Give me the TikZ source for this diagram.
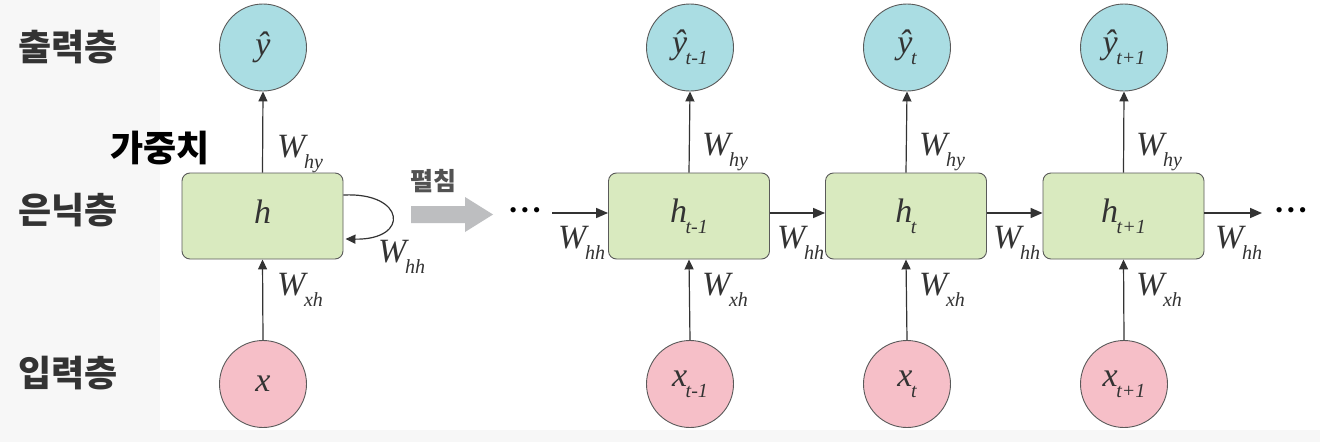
\documentclass[tikz,border=0pt]{standalone}
\usepackage{fontspec}
\setmainfont{Liberation Serif}
\newfontfamily\krfont{Noto Sans CJK KR}
\usetikzlibrary{arrows.meta}
\definecolor{bgGray}{HTML}{F7F7F7}
\definecolor{outC}{HTML}{AADDE3}
\definecolor{inC}{HTML}{F6BFC8}
\definecolor{hidC}{HTML}{D9EABF}
\definecolor{edgeC}{HTML}{5A5A5A}
\definecolor{lineC}{HTML}{333333}
\definecolor{unfoldC}{HTML}{BDBEC0}
\definecolor{krC}{HTML}{333333}
\newcommand{\mainsz}{\fontsize{34}{34}\selectfont\itshape}
\newcommand{\subsz}{\fontsize{20}{20}\selectfont\itshape}
\newcommand{\lab}[2]{{\mainsz #1}\kern-1.5pt\raisebox{-11pt}{\subsz #2}}
\newcommand{\mydots}{\textbullet\kern4pt\textbullet\kern4pt\textbullet}
\tikzset{
  outnode/.style={circle, draw=edgeC, line width=0.9pt, fill=outC, minimum size=87pt, inner sep=0pt, text=lineC},
  innode/.style={circle, draw=edgeC, line width=0.9pt, fill=inC, minimum size=87pt, inner sep=0pt, text=lineC},
  hidnode/.style={rectangle, rounded corners=8pt, draw=edgeC, line width=0.9pt, fill=hidC, minimum width=161pt, minimum height=86pt, inner sep=0pt, text=lineC},
  vconn/.style={draw=lineC, line width=1.2pt, -{Triangle[length=10pt,width=9pt]}},
  hconn/.style={draw=lineC, line width=1.6pt, -{Triangle[length=12pt,width=10pt]}},
  wlab/.style={anchor=base west, inner sep=0pt, text=lineC},
  krlab/.style={font=\krfont\bfseries\fontsize{36}{36}\selectfont, text=krC, inner sep=0pt},
  dotsnode/.style={inner sep=0pt, text=black, font=\fontsize{22}{22}\selectfont}
}
\begin{document}
\begin{tikzpicture}[x=1pt,y=-1pt]
\fill[bgGray] (0,0) rectangle (1320,442);
\fill[white] (160,0) rectangle (1320,430);
\useasboundingbox (0,0) rectangle (1320,442);

% Korean layer labels
\node[krlab] (kout) at (68,47) {출력층};
\node[krlab] (khid) at (68,210) {은닉층};
\node[krlab] (kin) at (68,373) {입력층};
\node[krlab, text=black] (kw) at (160,148) {가중치};

% folded network
\node[outnode] (y0) at (263,47.5) {\mainsz ŷ};
\node[hidnode] (h0) at (262.5,216) {\mainsz h\rule[-8pt]{0pt}{8pt}};
\node[innode] (x0) at (263,384) {\mainsz x};
\draw[vconn] (h0.north) -- (y0.south);
\draw[vconn] (x0.north) -- (h0.south);
\draw[draw=lineC, line width=1.2pt, -{Triangle[length=10pt,width=9pt]}]
  ([yshift=21pt]h0.east) .. controls ([xshift=62pt,yshift=24pt]h0.east) and ([xshift=67pt,yshift=-24pt]h0.east) .. ([xshift=2pt,yshift=-23pt]h0.east);
\node[wlab] (l0a) at (277,157) {\lab{W}{hy}};
\node[wlab] (l0b) at (277,295) {\lab{W}{xh}};
\node[wlab] (l0c) at (378,262) {\lab{W}{hh}};

% unfold arrow
\fill[unfoldC] (411,206) -- (465,206) -- (465,197) -- (493,214.5) -- (465,232) -- (465,223) -- (411,223) -- cycle;
\node[font=\krfont\bfseries\fontsize{25}{25}\selectfont, text=krC!85, inner sep=0pt] (unf) at (433,181) {펼침};

% unfolded network
\node[outnode] (y1) at (690,47.5) {\lab{ŷ}{t-1}};
\node[outnode] (y2) at (907,47.5) {\lab{ŷ}{t}};
\node[outnode] (y3) at (1124,47.5) {\lab{ŷ}{t+1}};
\node[hidnode] (h1) at (689,216) {\lab{h}{t-1}};
\node[hidnode] (h2) at (906,216) {\lab{h}{t}};
\node[hidnode] (h3) at (1123.5,216) {\lab{h}{t+1}};
\node[innode] (x1) at (690,384) {\lab{x}{t-1}};
\node[innode] (x2) at (907,384) {\lab{x}{t}};
\node[innode] (x3) at (1124,384) {\lab{x}{t+1}};

\node[dotsnode] (dl) at (525,213) {\mydots};
\node[dotsnode] (dr) at (1291,213) {\mydots};
\coordinate (ls) at (552,213);
\coordinate (re) at (1262,213);

\draw[hconn] (ls) -- ([yshift=3pt]h1.west);
\draw[hconn] ([yshift=3pt]h1.east) -- ([yshift=3pt]h2.west);
\draw[hconn] ([yshift=3pt]h2.east) -- ([yshift=3pt]h3.west);
\draw[hconn] ([yshift=3pt]h3.east) -- (re);

\foreach \i in {1,2,3}{
  \draw[vconn] (h\i.north) -- (y\i.south);
  \draw[vconn] (x\i.north) -- (h\i.south);
}

\node[wlab] (l1a) at (702,155) {\lab{W}{hy}};
\node[wlab] (l2a) at (919,155) {\lab{W}{hy}};
\node[wlab] (l3a) at (1136,155) {\lab{W}{hy}};
\node[wlab] (l1b) at (702,295) {\lab{W}{xh}};
\node[wlab] (l2b) at (919,295) {\lab{W}{xh}};
\node[wlab] (l3b) at (1136,295) {\lab{W}{xh}};
\node[wlab] (m0) at (558,248) {\lab{W}{hh}};
\node[wlab] (m1) at (777,248) {\lab{W}{hh}};
\node[wlab] (m2) at (993,248) {\lab{W}{hh}};
\node[wlab] (m3) at (1215,248) {\lab{W}{hh}};
\end{tikzpicture}
\end{document}
